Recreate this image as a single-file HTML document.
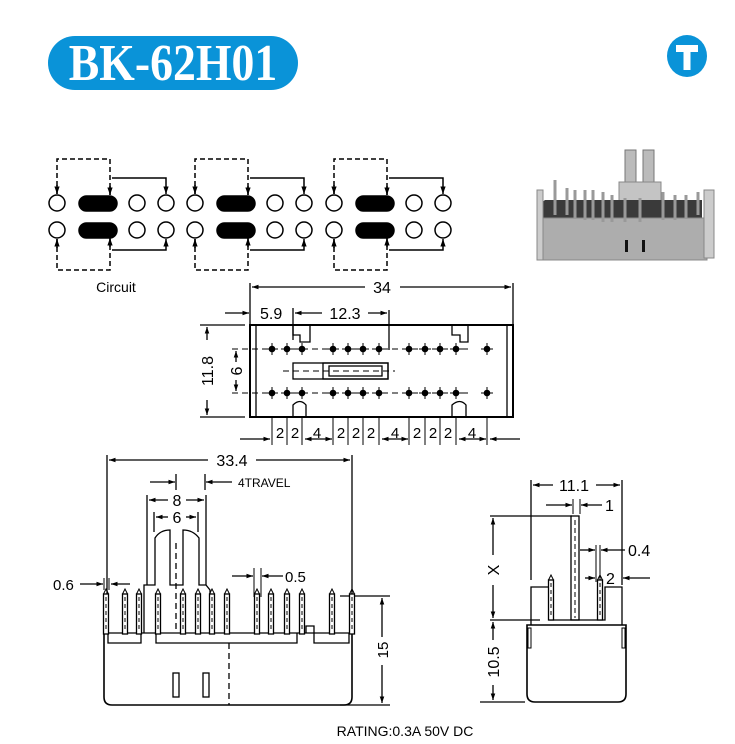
<!DOCTYPE html>
<html><head><meta charset="utf-8"><style>
html,body{margin:0;padding:0;background:#fff;}
svg{display:block;font-family:"Liberation Sans",sans-serif;}
</style></head><body>
<svg width="735" height="744" viewBox="0 0 735 744" xmlns="http://www.w3.org/2000/svg">
<defs>
<marker id="a" viewBox="0 0 10 10" refX="10" refY="5" markerWidth="7" markerHeight="5" orient="auto-start-reverse"><path d="M0,1.5 L10,5 L0,8.5 z" fill="#000"/></marker>
<g id="grp" stroke="#000" stroke-width="1.5" fill="none">
<circle cx="57" cy="203" r="8" fill="#fff"/><circle cx="57" cy="230" r="8" fill="#fff"/>
<rect x="79" y="196" width="38" height="15" rx="7.5" fill="#000"/>
<rect x="79" y="223" width="38" height="15" rx="7.5" fill="#000"/>
<circle cx="137" cy="203" r="8" fill="#fff"/><circle cx="137" cy="230" r="8" fill="#fff"/>
<circle cx="166" cy="203" r="8" fill="#fff"/><circle cx="166" cy="230" r="8" fill="#fff"/>
<path d="M57,194 V159 H110 V195" stroke-dasharray="5,3"/>
<path d="M57,239 V270 H110 V238" stroke-dasharray="5,3"/>
<path d="M57,185 V194" marker-end="url(#a)"/><path d="M110,186 V195" marker-end="url(#a)"/>
<path d="M57,248 V239" marker-end="url(#a)"/><path d="M110,247 V238" marker-end="url(#a)"/>
<path d="M112,178 H166 V194" marker-end="url(#a)"/>
<path d="M112,250 H166 V239" marker-end="url(#a)"/>
</g>
<g id="pin"><line x1="0" y1="-6" x2="0" y2="6" stroke="#000" stroke-width="1"/><line x1="-6" y1="0" x2="6" y2="0" stroke="#000" stroke-width="1"/><circle r="3.3" fill="#000"/></g>
<g id="fp"><rect x="-2.5" y="0" width="5" height="40" fill="#fff" stroke="#000" stroke-width="1.3"/><path d="M-2.5,0 L0,-5 L2.5,0" fill="none" stroke="#000" stroke-width="1"/><line x1="0" y1="3" x2="0" y2="38" stroke="#000" stroke-width="1" stroke-dasharray="4,3"/></g>
</defs>

<!-- title -->
<rect x="48" y="36" width="250" height="54" rx="27" fill="#0a93d8"/>
<text transform="translate(173,80) scale(0.88,1)" font-family="Liberation Serif,serif" font-weight="bold" font-size="52" fill="#fff" text-anchor="middle">BK-62H01</text>
<ellipse cx="687" cy="56" rx="20" ry="21" fill="#0a93d8"/>
<path d="M676,45 H698 V52 H690.5 V70 H683.5 V52 H676 Z" fill="#fff"/>

<!-- circuit -->
<use href="#grp"/><use href="#grp" x="138"/><use href="#grp" x="277"/>
<text x="116" y="292" font-size="14" text-anchor="middle">Circuit</text>

<!-- photo -->
<g>
<rect x="625" y="150" width="11" height="55" fill="#bbb" stroke="#777"/>
<rect x="643" y="150" width="11" height="55" fill="#bbb" stroke="#777"/>
<rect x="619" y="182" width="42" height="40" fill="#c4c4c4" stroke="#888"/>
<path d="M538,205 L545,200 L702,200 L702,228 L538,230 Z" fill="#3a3a3a"/>
<rect x="539" y="218" width="168" height="42" fill="#adadad" stroke="#888"/>
<rect x="537" y="190" width="6" height="70" fill="#ccc" stroke="#888"/>
<rect x="704" y="190" width="10" height="68" fill="#ccc" stroke="#888"/>
<g stroke="#999" stroke-width="3">
<line x1="555" y1="180" x2="555" y2="215"/><line x1="567" y1="188" x2="567" y2="215"/><line x1="575" y1="190" x2="575" y2="218"/><line x1="585" y1="190" x2="585" y2="220"/><line x1="593" y1="190" x2="593" y2="220"/><line x1="603" y1="192" x2="603" y2="222"/><line x1="612" y1="195" x2="612" y2="222"/><line x1="625" y1="198" x2="625" y2="222"/><line x1="640" y1="198" x2="640" y2="222"/><line x1="663" y1="192" x2="663" y2="220"/><line x1="675" y1="195" x2="675" y2="220"/><line x1="686" y1="195" x2="686" y2="218"/><line x1="698" y1="192" x2="698" y2="215"/>
</g>
<rect x="625" y="240" width="3" height="12" fill="#111"/><rect x="642" y="240" width="3" height="12" fill="#111"/>
</g>

<!-- top view -->
<g stroke="#000" stroke-width="1.3" fill="none">
<line x1="250" y1="283" x2="250" y2="325"/><line x1="513" y1="283" x2="513" y2="325"/>
<line x1="252" y1="287" x2="365" y2="287" marker-start="url(#a)"/><line x1="400" y1="287" x2="511" y2="287" marker-end="url(#a)"/>
<line x1="225" y1="313" x2="249" y2="313" marker-end="url(#a)"/>
<line x1="293" y1="308" x2="293" y2="340"/><line x1="389" y1="310" x2="389" y2="350"/>
<line x1="295" y1="313" x2="322" y2="313" marker-start="url(#a)"/><line x1="368" y1="313" x2="387" y2="313" marker-end="url(#a)"/>
<rect x="250" y="325" width="263" height="92" stroke-width="2"/>
<line x1="256" y1="325" x2="256" y2="417"/><line x1="507" y1="325" x2="507" y2="417"/>
<path d="M293,326 V335 H300 V342 H310 V326"/><path d="M452,326 V335 H460 V342 H468 V326"/>
<path d="M293,416 V405 Q300,398 306,405 V416"/><path d="M452,416 V405 Q460,398 466,405 V416"/>
<line x1="232" y1="349" x2="470" y2="349" stroke-dasharray="6,4" stroke-width="1"/>
<line x1="232" y1="393" x2="470" y2="393" stroke-dasharray="6,4" stroke-width="1"/>
<rect x="293" y="363" width="95" height="16"/><rect x="323" y="363" width="65" height="16"/><rect x="329" y="366" width="53" height="10"/>
<line x1="283" y1="371" x2="395" y2="371" stroke-dasharray="6,4" stroke-width="1"/>
<line x1="207" y1="327" x2="207" y2="340" marker-start="url(#a)"/><line x1="207" y1="400" x2="207" y2="415" marker-end="url(#a)"/>
<line x1="200" y1="325" x2="245" y2="325"/><line x1="200" y1="417" x2="245" y2="417"/>
<line x1="236" y1="351" x2="236" y2="362" marker-start="url(#a)"/><line x1="236" y1="380" x2="236" y2="391" marker-end="url(#a)"/>
<line x1="240" y1="439" x2="270" y2="439" marker-end="url(#a)"/><line x1="520" y1="439" x2="490" y2="439" marker-end="url(#a)"/>
<line x1="305" y1="439" x2="332" y2="439" marker-start="url(#a)" marker-end="url(#a)"/>
<line x1="382" y1="439" x2="408" y2="439" marker-start="url(#a)" marker-end="url(#a)"/>
<line x1="459" y1="439" x2="486" y2="439" marker-start="url(#a)" marker-end="url(#a)"/>
<g stroke-width="1">
<line x1="272" y1="417" x2="272" y2="445"/><line x1="287" y1="417" x2="287" y2="445"/><line x1="302" y1="417" x2="302" y2="445"/><line x1="333" y1="417" x2="333" y2="445"/><line x1="348" y1="417" x2="348" y2="445"/><line x1="363" y1="417" x2="363" y2="445"/><line x1="379" y1="417" x2="379" y2="445"/><line x1="409" y1="417" x2="409" y2="445"/><line x1="425" y1="417" x2="425" y2="445"/><line x1="440" y1="417" x2="440" y2="445"/><line x1="456" y1="417" x2="456" y2="445"/><line x1="487" y1="417" x2="487" y2="445"/>
</g>
</g>
<g>
<use href="#pin" x="272" y="349"/><use href="#pin" x="287" y="349"/><use href="#pin" x="302" y="349"/><use href="#pin" x="333" y="349"/><use href="#pin" x="348" y="349"/><use href="#pin" x="363" y="349"/><use href="#pin" x="379" y="349"/><use href="#pin" x="409" y="349"/><use href="#pin" x="425" y="349"/><use href="#pin" x="440" y="349"/><use href="#pin" x="456" y="349"/><use href="#pin" x="487" y="349"/>
<use href="#pin" x="272" y="393"/><use href="#pin" x="287" y="393"/><use href="#pin" x="302" y="393"/><use href="#pin" x="333" y="393"/><use href="#pin" x="348" y="393"/><use href="#pin" x="363" y="393"/><use href="#pin" x="379" y="393"/><use href="#pin" x="409" y="393"/><use href="#pin" x="425" y="393"/><use href="#pin" x="440" y="393"/><use href="#pin" x="456" y="393"/><use href="#pin" x="487" y="393"/>
</g>
<g font-size="16">
<text x="382" y="293" text-anchor="middle">34</text>
<text x="260" y="319">5.9</text>
<text x="345" y="319" text-anchor="middle">12.3</text>
<text transform="translate(213,371) rotate(-90)" text-anchor="middle">11.8</text>
<text transform="translate(242,371) rotate(-90)" text-anchor="middle">6</text>
<g font-size="15" text-anchor="middle">
<text x="280" y="438">2</text><text x="295" y="438">2</text><text x="317" y="438">4</text>
<text x="341" y="438">2</text><text x="356" y="438">2</text><text x="371" y="438">2</text><text x="395" y="438">4</text>
<text x="417" y="438">2</text><text x="433" y="438">2</text><text x="448" y="438">2</text><text x="472" y="438">4</text>
</g>
</g>

<!-- front view -->
<g stroke="#000" stroke-width="1.3" fill="none">
<line x1="107" y1="455" x2="107" y2="595"/><line x1="352" y1="455" x2="352" y2="595"/>
<line x1="109" y1="460" x2="208" y2="460" marker-start="url(#a)"/><line x1="256" y1="460" x2="350" y2="460" marker-end="url(#a)"/>
<line x1="150" y1="482" x2="175" y2="482" marker-end="url(#a)"/><line x1="176" y1="474" x2="176" y2="490"/>
<line x1="205" y1="474" x2="205" y2="490"/><line x1="232" y1="482" x2="206" y2="482" marker-end="url(#a)"/>
<line x1="147" y1="495" x2="147" y2="585"/><line x1="206" y1="495" x2="206" y2="585"/>
<line x1="149" y1="500" x2="168" y2="500" marker-start="url(#a)"/><line x1="186" y1="500" x2="204" y2="500" marker-end="url(#a)"/>
<line x1="154" y1="512" x2="154" y2="532"/><line x1="198" y1="512" x2="198" y2="532"/>
<line x1="156" y1="517" x2="168" y2="517" marker-start="url(#a)"/><line x1="186" y1="517" x2="196" y2="517" marker-end="url(#a)"/>
<path d="M144,633 V585 H155 V538 Q160,530 170,530 V585 H183 V530 Q193,530 199,538 V585 H206 L210,590 V633"/>
<line x1="176" y1="543" x2="176" y2="633" stroke-dasharray="6,4"/>
<path d="M103,633 H353"/>
<path d="M108,633 V643 H141 V633 M156,633 V643 H297 V633 M306,633 V626 H314 V643 H349 V633"/>
<line x1="229" y1="643" x2="229" y2="705" stroke-dasharray="6,4"/>
<path d="M104,633 V697 Q104,705 112,705 H344 Q352,705 352,697 V633" stroke-width="1.6"/>
<rect x="173" y="673" width="6" height="24"/><rect x="203" y="673" width="6" height="24"/>
<line x1="80" y1="584" x2="103" y2="584" marker-end="url(#a)"/><line x1="130" y1="584" x2="111" y2="584" marker-end="url(#a)"/>
<line x1="104" y1="578" x2="104" y2="590" stroke-width="1"/><line x1="109" y1="578" x2="109" y2="590" stroke-width="1"/>
<line x1="254" y1="568" x2="254" y2="597" stroke-width="1"/><line x1="261" y1="568" x2="261" y2="597" stroke-width="1"/>
<line x1="232" y1="576" x2="253" y2="576" marker-end="url(#a)"/><line x1="283" y1="576" x2="262" y2="576" marker-end="url(#a)"/>
<line x1="340" y1="596" x2="390" y2="596"/><line x1="340" y1="705" x2="390" y2="705"/>
<line x1="382" y1="598" x2="382" y2="637" marker-start="url(#a)"/><line x1="382" y1="665" x2="382" y2="703" marker-end="url(#a)"/>
</g>
<g>
<use href="#fp" x="106" y="594"/><use href="#fp" x="125" y="594"/><use href="#fp" x="139" y="594"/><use href="#fp" x="158" y="594"/><use href="#fp" x="183" y="594"/><use href="#fp" x="198" y="594"/><use href="#fp" x="212" y="594"/><use href="#fp" x="227" y="594"/><use href="#fp" x="257" y="594"/><use href="#fp" x="271" y="594"/><use href="#fp" x="287" y="594"/><use href="#fp" x="302" y="594"/><use href="#fp" x="332" y="594"/><use href="#fp" x="352" y="594"/>
</g>
<g font-size="16">
<text x="232" y="466" text-anchor="middle">33.4</text>
<text x="238" y="487" font-size="12">4TRAVEL</text>
<text x="177" y="506" text-anchor="middle">8</text>
<text x="177" y="523" text-anchor="middle">6</text>
<text x="53" y="590" font-size="15">0.6</text>
<text x="285" y="582" font-size="15">0.5</text>
<text transform="translate(388,650) rotate(-90)" text-anchor="middle" font-size="15">15</text>
</g>

<!-- side view -->
<g stroke="#000" stroke-width="1.3" fill="none">
<line x1="531" y1="480" x2="531" y2="580"/><line x1="622" y1="480" x2="622" y2="585"/>
<line x1="533" y1="485" x2="553" y2="485" marker-start="url(#a)"/><line x1="596" y1="485" x2="620" y2="485" marker-end="url(#a)"/>
<line x1="573" y1="499" x2="573" y2="514" stroke-width="1"/><line x1="580" y1="499" x2="580" y2="514" stroke-width="1"/>
<line x1="546" y1="505" x2="572" y2="505" marker-end="url(#a)"/><line x1="602" y1="505" x2="581" y2="505" marker-end="url(#a)"/>
<rect x="571" y="516" width="8" height="104"/>
<line x1="575" y1="520" x2="575" y2="618" stroke-dasharray="5,3" stroke-width="1"/>
<line x1="490" y1="516" x2="572" y2="516"/><line x1="490" y1="620" x2="540" y2="620"/>
<line x1="493" y1="518" x2="493" y2="555" marker-start="url(#a)"/><line x1="493" y1="585" x2="493" y2="618" marker-end="url(#a)"/>
<line x1="493" y1="622" x2="493" y2="640" marker-start="url(#a)"/><line x1="493" y1="685" x2="493" y2="700" marker-end="url(#a)"/>
<line x1="480" y1="702" x2="525" y2="702"/>
<line x1="596" y1="545" x2="596" y2="582" stroke-width="1"/><line x1="600" y1="545" x2="600" y2="590" stroke-width="1"/>
<line x1="580" y1="550" x2="595" y2="550" marker-end="url(#a)"/><line x1="625" y1="550" x2="601" y2="550" marker-end="url(#a)"/>
<line x1="585" y1="578" x2="595" y2="578" marker-end="url(#a)"/><line x1="650" y1="578" x2="623" y2="578" marker-end="url(#a)"/>
<path d="M531,625 V587 H550 V620 H605 V587 H622 V625"/>
<path d="M527,625 V694 Q527,702 535,702 H618 Q626,702 626,694 V625 Z" stroke-width="1.6"/>
<rect x="528" y="628" width="3" height="20" stroke-width="1"/><rect x="622" y="628" width="3" height="20" stroke-width="1"/>
</g>
<use href="#fp" x="551" y="580"/>
<use href="#fp" x="600" y="580"/>
<g font-size="16">
<text x="574" y="491" text-anchor="middle">11.1</text>
<text x="605" y="511">1</text>
<text x="628" y="556">0.4</text>
<text x="606" y="584">2</text>
<text transform="translate(499,570) rotate(-90)" text-anchor="middle">X</text>
<text transform="translate(499,662) rotate(-90)" text-anchor="middle">10.5</text>
</g>

<text x="405" y="736" font-size="14" text-anchor="middle">RATING:0.3A 50V DC</text>
</svg>
</body></html>
